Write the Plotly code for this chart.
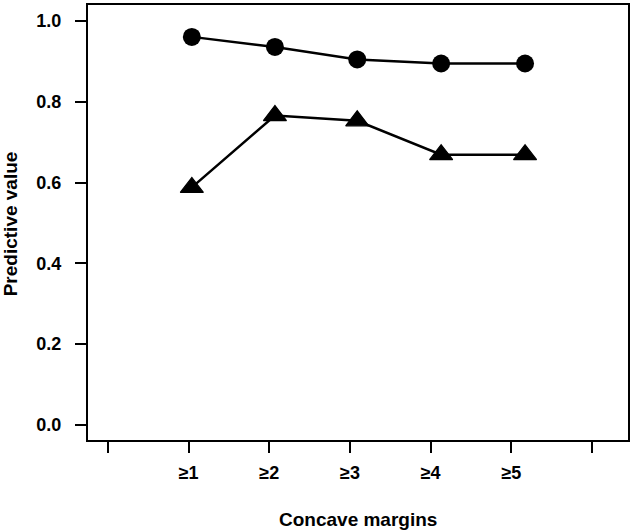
import plotly.graph_objects as go

# Data
x_tick_pos = [0, 1, 2, 3, 4, 5, 6]
x_tick_labels = ["", "≥1", "≥2", "≥3", "≥4", "≥5", ""]
x_pos = [1.04, 2.07, 3.09, 4.13, 5.17]          # marker positions on the x scale
circle_vals = [0.961, 0.936, 0.905, 0.895, 0.895]
triangle_vals = [0.588, 0.766, 0.753, 0.669, 0.669]
y_ticks = [0.0, 0.2, 0.4, 0.6, 0.8, 1.0]

FONT = "Liberation Sans, Arial, Helvetica, sans-serif"

fig = go.Figure()
fig.add_trace(go.Scatter(
    x=x_pos, y=circle_vals, mode="lines+markers",
    line=dict(color="black", width=2.5),
    marker=dict(symbol="circle", size=18, color="black"),
    showlegend=False))
fig.add_trace(go.Scatter(
    x=x_pos, y=triangle_vals, mode="lines+markers",
    line=dict(color="black", width=2.5),
    marker=dict(symbol="triangle-up", size=20, color="black",
                line=dict(color="black", width=1.2)),
    showlegend=False))

fig.update_layout(
    width=633, height=532,
    margin=dict(l=88, r=4, t=3, b=92),
    paper_bgcolor="white", plot_bgcolor="white",
    font=dict(family=FONT, color="black"),
    xaxis=dict(
        range=[-0.247, 6.446], tickmode="array",
        tickvals=x_tick_pos, ticktext=x_tick_labels,
        ticks="outside", ticklen=11, tickwidth=2, tickcolor="black",
        showline=True, linecolor="black", linewidth=2, mirror=True,
        showgrid=False, zeroline=False,
        tickfont=dict(family=FONT, size=18, color="black"),
        ticklabelstandoff=4,
    ),
    yaxis=dict(
        range=[-0.038, 1.04], tickmode="array",
        tickvals=y_ticks, ticktext=[f"{v:.1f}" for v in y_ticks],
        ticks="outside", ticklen=11, tickwidth=2, tickcolor="black",
        showline=True, linecolor="black", linewidth=2, mirror=True,
        showgrid=False, zeroline=False,
        tickfont=dict(family=FONT, size=18, color="black"),
        ticklabelstandoff=10,
    ),
    annotations=[
        dict(text="<b>Concave margins</b>", xref="paper", yref="paper",
             x=0.5, y=-0.183, xanchor="center", yanchor="middle",
             showarrow=False, font=dict(family=FONT, size=19, color="black")),
        dict(text="<b>Predictive value</b>", xref="paper", yref="paper",
             x=-0.142, y=(440 - 223) / 437, xanchor="center", yanchor="middle",
             textangle=-90, showarrow=False,
             font=dict(family=FONT, size=19, color="black")),
    ],
)
fig.update_xaxes(tickfont_weight="bold")
fig.update_yaxes(tickfont_weight="bold")

fig.write_html("out.html")
